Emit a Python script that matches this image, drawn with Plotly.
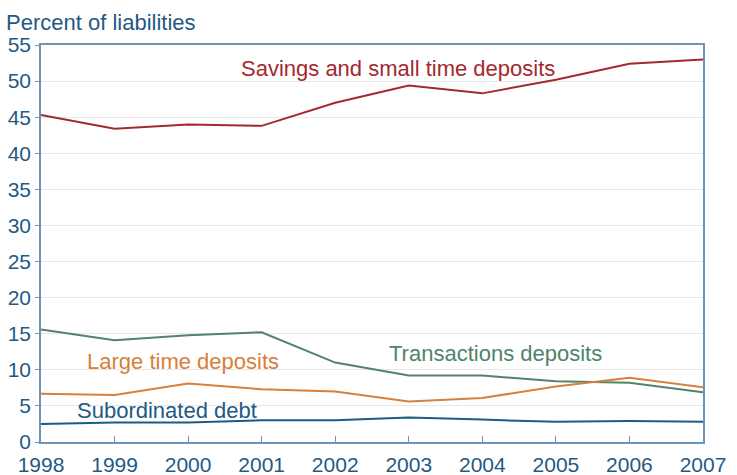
import plotly.graph_objects as go

years = [1998, 1999, 2000, 2001, 2002, 2003, 2004, 2005, 2006, 2007]
savings_small_time = [45.3, 43.4, 44.0, 43.8, 47.0, 49.4, 48.3, 50.2, 52.4, 53.0]
transactions = [15.6, 14.1, 14.8, 15.2, 11.0, 9.2, 9.2, 8.4, 8.2, 6.9]
large_time = [6.7, 6.5, 8.1, 7.3, 7.0, 5.6, 6.1, 7.7, 8.9, 7.6]
subordinated = [2.5, 2.7, 2.7, 3.0, 3.0, 3.4, 3.1, 2.8, 2.9, 2.8]
y_ticks = list(range(0, 56, 5))

AXIS_BLUE = "#1f5a85"
FRAME = "#6d93b8"
FONT = "Liberation Sans, Arial, sans-serif"

series = [
    ("Savings and small time deposits", savings_small_time, "#a3292f", 2002.85, 51.8),
    ("Transactions deposits", transactions, "#4f8468", 2004.18, 12.2),
    ("Large time deposits", large_time, "#d7803b", 1999.93, 11.1),
    ("Subordinated debt", subordinated, "#1d5a85", 1999.71, 4.4),
]

fig = go.Figure()
for name, vals, color, lx, ly in series:
    fig.add_trace(go.Scatter(x=years, y=vals, mode="lines", name=name,
                             line=dict(color=color, width=2), showlegend=False))
    fig.add_annotation(x=lx, y=ly, text=name, showarrow=False,
                       font=dict(family=FONT, size=22, color=color))

fig.add_annotation(x=0, y=1, xref="paper", yref="paper", xshift=-37, yshift=37,
                   text="Percent of liabilities", showarrow=False,
                   xanchor="left", yanchor="top",
                   font=dict(family=FONT, size=22, color=AXIS_BLUE))

fig.update_layout(
    width=737, height=475,
    margin=dict(l=41, r=34, t=45, b=33),
    paper_bgcolor="white", plot_bgcolor="white",
    font=dict(family=FONT, size=21, color=AXIS_BLUE),
)
fig.update_xaxes(range=[1998, 2007], tickvals=years, ticks="inside", ticklen=6,
                 tickcolor=FRAME, showgrid=False, zeroline=False, automargin=False,
                 showline=True, linecolor=FRAME, linewidth=1.5, mirror=True,
                 ticklabelstandoff=3,
                 tickfont=dict(size=21, color=AXIS_BLUE))
fig.update_yaxes(range=[0, 55], tickvals=y_ticks, ticks="outside", ticklen=4,
                 tickcolor=FRAME, showgrid=True, gridcolor="#e8e8e8", zeroline=False,
                 automargin=False,
                 showline=True, linecolor=FRAME, linewidth=1.5, mirror=True,
                 tickfont=dict(size=21, color=AXIS_BLUE))

fig.write_html("out.html")
